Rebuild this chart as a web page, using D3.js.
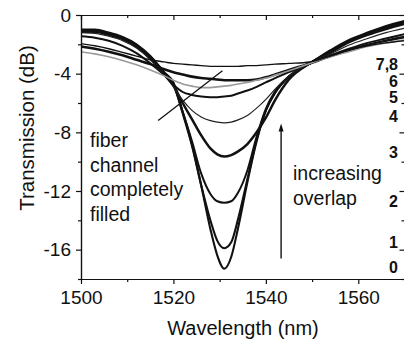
<!DOCTYPE html>
<html>
<head>
<meta charset="utf-8">
<script src="https://cdn.jsdelivr.net/npm/d3@7"></script>
<style>
  html, body { margin: 0; padding: 0; background: #fff; }
  svg { display: block; font-family: "Liberation Sans", Arial, sans-serif; }
</style>
</head>
<body>
<div id="chart"></div>
<script>
// wavelength samples (nm) shared by every trace
const wavelengths = [1500, 1503, 1506, 1509, 1512, 1515, 1518, 1520, 1522, 1524, 1526, 1528, 1529.5,
  1531, 1532.5, 1534, 1536, 1538, 1540, 1542, 1545, 1549.5, 1554, 1558, 1562, 1566, 1570];

// transmission (dB)
const curve0 = [-1.0, -1.0, -1.2, -1.5, -2.0, -2.8, -3.9, -4.6, -6.6, -8.8, -11.6, -14.6, -16.4,
  -17.3, -16.5, -14.5, -11.4, -8.6, -6.5, -5.3, -4.2, -3.3, -2.4, -1.7, -1.2, -0.75, -0.4];
const curve1 = [-1.05, -1.05, -1.25, -1.55, -2.05, -2.85, -3.95, -4.7, -6.7, -8.9, -11.6, -14.0, -15.4,
  -15.9, -15.5, -13.9, -11.2, -8.5, -6.5, -5.3, -4.2, -3.3, -2.45, -1.75, -1.25, -0.8, -0.45];
const curve2 = [-1.1, -1.1, -1.3, -1.6, -2.1, -2.9, -4.0, -4.8, -6.6, -8.6, -10.8, -12.2, -12.7,
  -12.8, -12.7, -12.1, -10.6, -8.3, -6.4, -5.2, -4.2, -3.3, -2.5, -1.8, -1.3, -0.85, -0.5];
const curve3 = [-1.15, -1.15, -1.35, -1.65, -2.15, -2.95, -4.0, -4.8, -6.0, -7.1, -8.2, -9.1, -9.5,
  -9.65, -9.55, -9.3, -8.8, -8.0, -7.0, -5.8, -4.4, -3.3, -2.55, -1.85, -1.35, -0.95, -0.6];
const curve4 = [-1.2, -1.25, -1.45, -1.75, -2.25, -3.05, -4.1, -4.9, -5.8, -6.5, -6.95, -7.2, -7.3,
  -7.35, -7.3, -7.15, -6.85, -6.35, -5.75, -5.05, -4.15, -3.3, -2.65, -2.05, -1.6, -1.2, -0.9];
const curve5 = [-1.45, -1.55, -1.75, -2.1, -2.6, -3.3, -4.1, -4.75, -5.25, -5.45, -5.55, -5.6, -5.6,
  -5.55, -5.5, -5.35, -5.15, -4.9, -4.6, -4.3, -3.9, -3.3, -2.75, -2.3, -1.9, -1.6, -1.3];
const curve6 = [-2.15, -2.3, -2.5, -2.75, -3.05, -3.35, -3.7, -3.9, -4.05, -4.2, -4.3, -4.35, -4.4,
  -4.45, -4.45, -4.45, -4.45, -4.4, -4.25, -4.05, -3.75, -3.3, -2.8, -2.4, -2.05, -1.75, -1.5];
const curve7 = [-2.5, -2.65, -2.85, -3.1, -3.4, -3.75, -4.15, -4.45, -4.7, -4.85, -4.95, -4.95, -4.9,
  -4.85, -4.8, -4.7, -4.6, -4.45, -4.3, -4.1, -3.8, -3.3, -2.85, -2.5, -2.15, -1.9, -1.7];
const curve8 = [-1.95, -2.1, -2.3, -2.55, -2.8, -3.05, -3.2, -3.3, -3.35, -3.4, -3.45, -3.5, -3.5,
  -3.5, -3.5, -3.5, -3.45, -3.45, -3.4, -3.35, -3.3, -3.2, -2.8, -2.4, -2.1, -1.9, -1.75];

// labels on the right edge and the level they sit at (dB)
const seriesLabels = ["0", "1", "2", "3", "4", "5", "6", "7,8"];
const labelLevels = [-17.6, -15.9, -13.1, -9.75, -7.3, -6.0, -4.9, -3.75];

const xTicks = [1500, 1520, 1540, 1560];
const xMinor = [1510, 1530, 1550, 1570];
const yTicks = [0, -4, -8, -12, -16];
const yMinor = [-2, -6, -10, -14, -18];

const W = 404, H = 344;
const svg = d3.select("#chart").append("svg").attr("width", W).attr("height", H);
svg.append("rect").attr("width", W).attr("height", H).attr("fill", "#fff");

const x = d3.scaleLinear().domain([1500, 1570]).range([81, 404.5]);
const y = d3.scaleLinear().domain([-18, 0]).range([279, 15]);

// trace styles: deep dips thick, shallow ones thinner, one grey
const traces = [
  { v: curve0, w: 2.1, c: "#111" },
  { v: curve1, w: 2.1, c: "#111" },
  { v: curve2, w: 2.0, c: "#111" },
  { v: curve3, w: 2.5, c: "#111" },
  { v: curve4, w: 1.2, c: "#222" },
  { v: curve5, w: 2.0, c: "#111" },
  { v: curve6, w: 2.6, c: "#111" },
  { v: curve7, w: 1.6, c: "#9a9a9a" },
  { v: curve8, w: 1.4, c: "#111" }
];

const line = d3.line()
  .x((d, i) => x(wavelengths[i]))
  .y(d => y(d))
  .curve(d3.curveMonotoneX);

svg.append("defs").append("clipPath").attr("id", "plot")
  .append("rect").attr("x", 81).attr("y", 15).attr("width", 324).attr("height", 264);

svg.append("g").attr("clip-path", "url(#plot)")
  .selectAll("path").data(traces).enter().append("path")
  .attr("d", d => line(d.v))
  .attr("fill", "none")
  .attr("stroke", d => d.c)
  .attr("stroke-width", d => d.w)
  .attr("stroke-linejoin", "round");

// axes (plain hyphen for negatives, like the original)
const plain = d => String(d);
const styleAxis = g => {
  g.select(".domain").attr("stroke", "#111").attr("stroke-width", 1.2);
  g.selectAll(".tick line").attr("stroke", "#111").attr("stroke-width", 1.2);
  g.selectAll("text").attr("fill", "#111").style("font-size", "19px");
};

svg.append("g").attr("transform", "translate(0,279)")
  .call(d3.axisBottom(x).tickValues(xTicks).tickSize(5).tickSizeOuter(0).tickPadding(7).tickFormat(plain))
  .call(styleAxis);
svg.append("g").attr("transform", "translate(0,279)")
  .call(d3.axisBottom(x).tickValues(xMinor).tickSize(3).tickSizeOuter(0).tickFormat(""))
  .call(styleAxis);
svg.append("g").attr("transform", "translate(0,15)")
  .call(d3.axisBottom(x).tickValues(xTicks).tickSize(5).tickSizeOuter(0).tickFormat(""))
  .call(styleAxis);
svg.append("g").attr("transform", "translate(0,15)")
  .call(d3.axisBottom(x).tickValues(xMinor).tickSize(3).tickSizeOuter(0).tickFormat(""))
  .call(styleAxis);

svg.append("g").attr("transform", "translate(81,0)")
  .call(d3.axisLeft(y).tickValues(yTicks).tickSize(5).tickSizeOuter(0).tickPadding(5).tickFormat(plain))
  .call(styleAxis);
svg.append("g").attr("transform", "translate(81,0)")
  .call(d3.axisLeft(y).tickValues(yMinor).tickSize(3).tickSizeOuter(0).tickFormat(""))
  .call(styleAxis);
svg.append("g").attr("transform", "translate(404.5,0)")
  .call(d3.axisLeft(y).tickValues(yTicks).tickSize(5).tickSizeOuter(0).tickFormat(""))
  .call(styleAxis);
svg.append("g").attr("transform", "translate(404.5,0)")
  .call(d3.axisLeft(y).tickValues(yMinor).tickSize(3).tickSizeOuter(0).tickFormat(""))
  .call(styleAxis);

// axis titles
svg.append("text").attr("x", 243).attr("y", 335).attr("text-anchor", "middle")
  .attr("fill", "#111").style("font-size", "20px").text("Wavelength (nm)");
svg.append("text").attr("transform", "translate(34,128) rotate(-90)").attr("text-anchor", "middle")
  .attr("fill", "#111").style("font-size", "20.5px").text("Transmission (dB)");

// right-hand curve numbers
svg.selectAll(".num").data(seriesLabels).enter().append("text")
  .attr("class", "num")
  .attr("x", 398)
  .attr("y", (d, i) => y(labelLevels[i]))
  .attr("text-anchor", "end")
  .attr("fill", "#111")
  .style("font-size", "16px").style("font-weight", "700")
  .text(d => d);

// annotation: fiber channel completely filled
const note = svg.append("text").attr("fill", "#111").style("font-size", "19.5px");
["fiber", "channel", "completely", "filled"].forEach((t, i) => {
  note.append("tspan").attr("x", 90).attr("y", 147 + i * 24.7).text(t);
});
svg.append("line")
  .attr("x1", x(1516.7)).attr("y1", y(-7.2))
  .attr("x2", x(1530.6)).attr("y2", y(-3.8))
  .attr("stroke", "#111").attr("stroke-width", 1.3);

// annotation: increasing overlap arrow
const note2 = svg.append("text").attr("fill", "#111").style("font-size", "19.5px");
["increasing", "overlap"].forEach((t, i) => {
  note2.append("tspan").attr("x", 293).attr("y", 180 + i * 25).text(t);
});
const ax = x(1543.3);
svg.append("line")
  .attr("x1", ax).attr("y1", y(-16.6))
  .attr("x2", ax).attr("y2", y(-7.6))
  .attr("stroke", "#111").attr("stroke-width", 1.4);
svg.append("path")
  .attr("d", `M${ax},${y(-7.4)} L${ax - 2.5},${y(-7.4) + 8} L${ax + 2.5},${y(-7.4) + 8} Z`)
  .attr("fill", "#111");
</script>
</body>
</html>
